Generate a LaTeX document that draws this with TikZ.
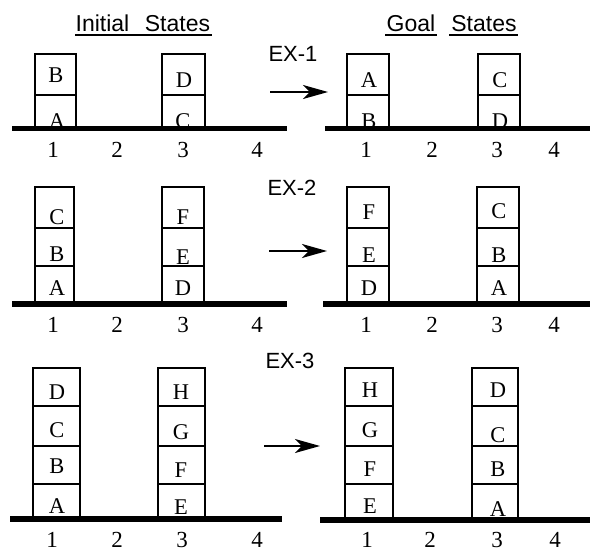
\documentclass[tikz,border=0pt]{standalone}
\usepackage{fontspec}
\setmainfont{Liberation Serif}
\newfontfamily\sansfam{Liberation Sans}
\usetikzlibrary{arrows.meta}
\tikzset{
  blk/.style={draw, line width=1.8pt},
  lt/.style={font=\fontsize{22.5}{22.5}\selectfont, inner sep=0pt},
  grd/.style={line width=5.5pt},
  dig/.style={font=\fontsize{23}{23}\selectfont, anchor=base, inner sep=0pt},
  ttl/.style={font=\sansfam\fontsize{23}{23}\selectfont, anchor=base, inner sep=0pt},
  exl/.style={font=\sansfam\fontsize{22}{22}\selectfont, anchor=base, inner sep=0pt},
  uline/.style={line width=2pt},
  arr/.style={-{Stealth[length=25pt,width=14pt,inset=7pt]}, line width=1.8pt}
}
\begin{document}
\begin{tikzpicture}[x=1pt,y=-1pt]
\useasboundingbox (0,0) rectangle (590,552);
% titles
\node[ttl] (tini) at (102.5,31.5) {Initial};
\node[ttl] (tst1) at (177.5,31.5) {States};
\node[ttl] (tgoal) at (411,31.5) {Goal};
\node[ttl] (tst2) at (484,31.5) {States};
\draw[uline] (75,34.5) -- (212,34.5);
\draw[uline] (385,34.5) -- (437,34.5);
\draw[uline] (449,34.5) -- (518,34.5);
% EX labels
\node[exl] (ex1) at (293,61) {EX-1};
\node[exl] (ex2) at (292,195) {EX-2};
\node[exl] (ex3) at (290,368) {EX-3};
% arrows
\coordinate (a1s) at (270,92); \coordinate (a1e) at (328,92);
\coordinate (a2s) at (269,251); \coordinate (a2e) at (327,251);
\coordinate (a3s) at (264,446); \coordinate (a3e) at (320,446);
\draw[arr] (a1s) -- (a1e);
\draw[arr] (a2s) -- (a2e);
\draw[arr] (a3s) -- (a3e);

% ---------- EX-1 ----------
% left
\draw[blk] (35,54) rectangle (76,128); \draw[blk] (35,95) -- (76,95);
\draw[blk] (162,54) rectangle (205,128); \draw[blk] (162,95) -- (205,95);
\node[lt] (l1b) at (56,75) {B};
\node[lt] (l1a) at (57,121) {A};
\node[lt] (l1d) at (184,80) {D};
\node[lt] (l1c) at (183,121) {C};
% right
\draw[blk] (347,54) rectangle (389,128); \draw[blk] (347,95) -- (389,95);
\draw[blk] (478,54) rectangle (520,128); \draw[blk] (478,95) -- (520,95);
\node[lt] (r1a) at (369,80) {A};
\node[lt] (r1b) at (369,121) {B};
\node[lt] (r1c) at (500,80) {C};
\node[lt] (r1d) at (500,121) {D};
\draw[grd] (12,128.5) -- (287,128.5);
\draw[grd] (325,128.5) -- (590,128.5);
\foreach \x/\t [count=\i] in {53/1,117/2,183/3,257/4}{\node[dig] (d1l\i) at (\x,157) {\t};}
\foreach \x/\t [count=\i] in {366/1,432/2,497/3,554/4}{\node[dig] (d1r\i) at (\x,157) {\t};}

% ---------- EX-2 ----------
\draw[blk] (35,187) rectangle (74,304); \draw[blk] (35,228) -- (74,228); \draw[blk] (35,266) -- (74,266);
\draw[blk] (162,187) rectangle (204,304); \draw[blk] (162,228) -- (204,228); \draw[blk] (162,266) -- (204,266);
\node[lt] (l2c) at (57,217) {C};
\node[lt] (l2b) at (57,254) {B};
\node[lt] (l2a) at (57,288) {A};
\node[lt] (l2f) at (183,217) {F};
\node[lt] (l2e) at (183,257) {E};
\node[lt] (l2d) at (183,288) {D};
\draw[blk] (347,187) rectangle (389,304); \draw[blk] (347,228) -- (389,228); \draw[blk] (347,266) -- (389,266);
\draw[blk] (477,187) rectangle (519,304); \draw[blk] (477,228) -- (519,228); \draw[blk] (477,266) -- (519,266);
\node[lt] (r2f) at (369,212) {F};
\node[lt] (r2e) at (369,255) {E};
\node[lt] (r2d) at (369,288) {D};
\node[lt] (r2c) at (499,211) {C};
\node[lt] (r2b) at (499,255) {B};
\node[lt] (r2a) at (499,288) {A};
\draw[grd] (12,304) -- (287,304);
\draw[grd] (323,304) -- (590,304);
\foreach \x/\t [count=\i] in {53/1,117/2,183/3,257/4}{\node[dig] (d2l\i) at (\x,332) {\t};}
\foreach \x/\t [count=\i] in {366/1,432/2,497/3,554/4}{\node[dig] (d2r\i) at (\x,332) {\t};}

% ---------- EX-3 ----------
\draw[blk] (33,368) rectangle (80,518); \draw[blk] (33,406) -- (80,406); \draw[blk] (33,446) -- (80,446); \draw[blk] (33,484) -- (80,484);
\draw[blk] (158,368) rectangle (205,518); \draw[blk] (158,406) -- (205,406); \draw[blk] (158,446) -- (205,446); \draw[blk] (158,484) -- (205,484);
\node[lt] (l3d) at (57,392) {D};
\node[lt] (l3c) at (57,430) {C};
\node[lt] (l3b) at (57,466) {B};
\node[lt] (l3a) at (57,506) {A};
\node[lt] (l3h) at (181,392) {H};
\node[lt] (l3g) at (181,432) {G};
\node[lt] (l3f) at (181,470) {F};
\node[lt] (l3e) at (181,507) {E};
\draw[blk] (345,368) rectangle (393,518); \draw[blk] (345,406) -- (393,406); \draw[blk] (345,446) -- (393,446); \draw[blk] (345,484) -- (393,484);
\draw[blk] (472,368) rectangle (518,518); \draw[blk] (472,406) -- (518,406); \draw[blk] (472,446) -- (518,446); \draw[blk] (472,484) -- (518,484);
\node[lt] (r3h) at (370,390) {H};
\node[lt] (r3g) at (370,430) {G};
\node[lt] (r3f) at (370,469) {F};
\node[lt] (r3e) at (370,506) {E};
\node[lt] (r3d) at (498,390) {D};
\node[lt] (r3c) at (498,435) {C};
\node[lt] (r3b) at (498,469) {B};
\node[lt] (r3a) at (498,509) {A};
\draw[grd] (10,519) -- (282,519);
\draw[grd] (320,520) -- (590,520);
\foreach \x/\t [count=\i] in {52/1,117/2,182/3,257/4}{\node[dig] (d3l\i) at (\x,547) {\t};}
\foreach \x/\t [count=\i] in {367/1,430/2,497/3,555/4}{\node[dig] (d3r\i) at (\x,547) {\t};}
\end{tikzpicture}
\end{document}
